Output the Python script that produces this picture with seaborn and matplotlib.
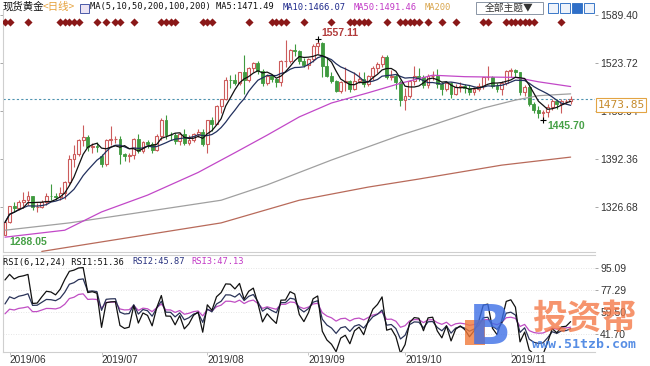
import numpy as np
import pandas as pd
import seaborn as sns
import matplotlib.pyplot as plt
import matplotlib.transforms as mtransforms
from matplotlib.patches import Rectangle

# daily candles, 2019-05-31 .. 2019-11-20 (124 sessions)
opens = [1288.3, 1305.6, 1327.9, 1325.3, 1333.3, 1336.5, 1341.4, 1326.9, 1327.3, 1334.2,
         1341.5, 1341.2, 1340.2, 1345.8, 1361.0, 1391.9, 1399.9, 1418.6, 1422.9, 1408.6,
         1410.2, 1397.0, 1385.4, 1418.0, 1419.6, 1420.0, 1399.5, 1396.4, 1397.4, 1419.3,
         1403.9, 1415.5, 1413.5, 1404.6, 1424.3, 1445.3, 1425.9, 1425.7, 1417.3, 1426.9,
         1414.1, 1418.7, 1426.8, 1430.0, 1413.5, 1445.5, 1440.5, 1464.3, 1474.0, 1500.4,
         1500.2, 1497.0, 1511.5, 1500.6, 1516.5, 1524.0, 1513.1, 1496.5, 1506.2, 1501.5,
         1497.7, 1526.7, 1527.0, 1542.0, 1540.5, 1526.4, 1520.6, 1529.2, 1547.1, 1551.6,
         1519.6, 1506.6, 1499.6, 1486.0, 1497.2, 1499.6, 1488.7, 1498.8, 1501.8, 1494.8,
         1505.6, 1516.8, 1522.1, 1531.7, 1504.6, 1505.9, 1497.8, 1472.5, 1478.9, 1499.7,
         1505.5, 1504.9, 1493.6, 1505.3, 1505.9, 1494.9, 1488.2, 1496.4, 1481.8, 1490.2,
         1492.6, 1489.9, 1484.5, 1487.5, 1492.4, 1504.1, 1504.9, 1492.3, 1487.8, 1495.7,
         1512.5, 1514.3, 1510.8, 1484.0, 1491.0, 1467.0, 1459.0, 1456.0, 1456.7, 1463.1,
         1471.2, 1468.1, 1471.4, 1471.7]
highs = [1306.0, 1328.6, 1333.5, 1336.5, 1347.0, 1348.5, 1342.0, 1332.0, 1337.0, 1346.0,
         1358.0, 1346.0, 1354.0, 1362.0, 1397.5, 1411.0, 1420.0, 1439.0, 1425.0, 1414.0,
         1416.0, 1399.0, 1420.0, 1437.0, 1424.0, 1424.0, 1401.0, 1401.0, 1421.0, 1426.0,
         1417.0, 1418.0, 1416.0, 1427.0, 1448.0, 1453.0, 1430.0, 1428.0, 1430.0, 1434.0,
         1425.0, 1428.0, 1433.0, 1433.0, 1446.0, 1450.0, 1466.0, 1475.0, 1505.0, 1507.0,
         1509.0, 1512.0, 1535.0, 1518.0, 1525.0, 1526.0, 1515.0, 1509.0, 1508.0, 1503.0,
         1528.0, 1555.0, 1543.0, 1550.0, 1542.0, 1531.0, 1530.0, 1550.0, 1557.11, 1552.0,
         1530.0, 1511.0, 1500.0, 1499.0, 1518.0, 1501.0, 1512.0, 1512.0, 1512.0, 1507.0,
         1519.0, 1525.0, 1535.0, 1534.0, 1514.0, 1508.0, 1500.0, 1489.0, 1500.0, 1519.0,
         1517.0, 1507.0, 1509.0, 1513.0, 1516.0, 1498.0, 1497.0, 1498.0, 1495.0, 1498.0,
         1495.0, 1493.0, 1491.0, 1496.0, 1505.0, 1519.0, 1506.0, 1496.0, 1499.0, 1514.0,
         1517.0, 1516.0, 1512.0, 1494.0, 1495.0, 1471.0, 1465.0, 1460.0, 1468.0, 1474.0,
         1474.0, 1475.0, 1474.0, 1478.0]
lows = [1288.05, 1304.5, 1320.0, 1322.0, 1326.0, 1330.0, 1323.0, 1320.0, 1325.0, 1330.0,
        1336.0, 1337.0, 1336.0, 1338.0, 1358.0, 1382.0, 1396.0, 1410.0, 1404.0, 1400.0,
        1402.0, 1381.0, 1383.0, 1411.0, 1414.0, 1386.0, 1390.0, 1388.0, 1393.0, 1400.0,
        1401.0, 1408.0, 1401.0, 1403.0, 1419.0, 1420.0, 1419.0, 1413.0, 1412.0, 1411.0,
        1412.0, 1416.0, 1422.0, 1410.0, 1400.0, 1431.0, 1440.0, 1456.0, 1473.0, 1490.0,
        1494.0, 1494.0, 1481.0, 1498.0, 1511.0, 1509.0, 1492.0, 1494.0, 1498.0, 1491.0,
        1492.0, 1518.0, 1524.0, 1533.0, 1522.0, 1518.0, 1516.0, 1525.0, 1536.0, 1504.0,
        1504.0, 1496.0, 1484.0, 1483.0, 1485.0, 1484.0, 1487.0, 1497.0, 1491.0, 1492.0,
        1500.0, 1510.0, 1518.0, 1502.0, 1500.0, 1488.0, 1465.0, 1459.0, 1476.0, 1493.0,
        1499.0, 1489.0, 1490.0, 1501.0, 1490.0, 1480.0, 1486.0, 1476.0, 1480.0, 1484.0,
        1483.0, 1480.0, 1480.0, 1485.0, 1488.0, 1500.0, 1489.0, 1484.0, 1480.0, 1494.0,
        1505.0, 1505.0, 1480.0, 1479.0, 1465.0, 1456.0, 1448.0, 1445.70, 1450.0, 1460.0,
        1461.0, 1456.0, 1467.0, 1468.0]
closes = [1305.6, 1327.9, 1325.3, 1333.3, 1336.5, 1341.4, 1326.9, 1327.3, 1334.2, 1341.5,
          1341.2, 1340.2, 1345.8, 1361.0, 1391.9, 1399.9, 1418.6, 1422.9, 1408.6, 1410.2,
          1409.4, 1385.4, 1418.0, 1419.6, 1420.0, 1399.5, 1396.4, 1397.4, 1419.3, 1403.9,
          1415.5, 1413.5, 1404.6, 1424.3, 1445.3, 1425.9, 1425.7, 1417.3, 1426.9, 1414.1,
          1418.7, 1426.8, 1430.0, 1413.5, 1445.5, 1440.5, 1464.3, 1474.0, 1500.4, 1500.2,
          1497.0, 1511.5, 1500.6, 1516.5, 1524.0, 1513.1, 1496.5, 1506.2, 1501.5, 1497.7,
          1526.7, 1527.0, 1542.0, 1540.5, 1526.4, 1520.6, 1529.2, 1547.1, 1551.6, 1519.6,
          1506.6, 1499.6, 1486.0, 1497.2, 1499.6, 1488.7, 1498.8, 1501.8, 1494.8, 1505.6,
          1516.8, 1522.1, 1531.7, 1504.6, 1505.9, 1497.8, 1472.5, 1478.9, 1499.7, 1505.5,
          1504.9, 1493.6, 1505.3, 1505.9, 1494.9, 1488.2, 1496.4, 1481.8, 1490.2, 1492.6,
          1489.9, 1484.5, 1487.5, 1492.4, 1504.1, 1504.9, 1492.3, 1487.8, 1495.7, 1512.5,
          1514.3, 1510.8, 1484.0, 1491.0, 1467.0, 1459.0, 1456.0, 1456.7, 1463.1, 1471.2,
          1468.1, 1471.4, 1471.7, 1473.85]

# long moving averages (session index, value)
ma50_idx = [0, 13, 21, 31, 42, 50, 57, 64, 71, 79, 86, 93, 100, 111, 116, 123]
ma50_val = [1285.5, 1295.0, 1320.0, 1343.0, 1374.0, 1401.0, 1425.0, 1450.0, 1469.0,
            1483.0, 1496.0, 1507.0, 1505.0, 1504.0, 1498.0, 1491.5]
ma100_idx = [0, 14, 28, 47, 57, 71, 86, 93, 104, 111, 116, 123]
ma100_val = [1295.0, 1305.0, 1318.0, 1336.0, 1357.0, 1391.0, 1425.0, 1439.0, 1462.0,
             1473.0, 1479.0, 1481.5]
ma200_idx = [8, 47, 64, 79, 90, 108, 123]
ma200_val = [1266.0, 1305.0, 1336.0, 1354.0, 1365.0, 1384.0, 1395.0]

# RSI(6,12,24) levels on the first session
rsi_periods = [6, 12, 24]
rsi_start = [85.4, 66.0, 58.0]

signal_idx = [0, 1, 5, 12, 13, 14, 15, 16, 20, 22, 24, 25, 28, 34, 35, 36, 37, 43, 44, 45,
              53, 58, 59, 60, 61, 65, 71, 75, 76, 77, 78, 79, 83, 86, 87, 88, 89, 90, 92,
              95, 98, 104, 105, 109, 110, 111, 112, 113, 114, 115, 121]

month_idx = [1, 21, 44, 66, 87, 110]
month_labels = ['2019/06', '2019/07', '2019/08', '2019/09', '2019/10', '2019/11']
price_ticks = [1326.68, 1392.36, 1458.04, 1523.72, 1589.40]
rsi_ticks = [41.70, 59.50, 77.29, 95.09]

UP = '#cc5c5c'
DN = '#3f9a3f'

sns.set_theme(style='white')
plt.rcParams['font.family'] = ['Liberation Sans', 'Noto Sans CJK SC']

W, H = 650, 366
fig = plt.figure(figsize=(6.5, 3.66), dpi=100)
fig.patch.set_facecolor('white')


def box(l, t, r, b):
    return [l / W, 1 - b / H, (r - l) / W, (b - t) / H]


def put(x, y, s, **kw):
    kw.setdefault('va', 'center')
    return fig.text(x / W, 1 - y / H, s, **kw)


ax1 = fig.add_axes(box(3, 10, 595, 252))
ax2 = fig.add_axes(box(3, 255, 595, 352))

df = pd.DataFrame({'o': opens, 'h': highs, 'l': lows, 'c': closes})
df['i'] = np.arange(len(df))

# candles
up = df[df.c >= df.o]
dn = df[df.c < df.o]
ax1.vlines(up.i, up.c, up.h, color=UP, lw=0.8, zorder=2)
ax1.vlines(up.i, up.l, up.o, color=UP, lw=0.8, zorder=2)
ax1.bar(up.i, (up.c - up.o).clip(lower=0.4), bottom=up.o, width=0.62, color='white',
        edgecolor=UP, linewidth=0.8, zorder=3)
ax1.vlines(dn.i, dn.l, dn.h, color=DN, lw=0.8, zorder=2)
ax1.bar(dn.i, dn.o - dn.c, bottom=dn.c, width=0.62, color=DN, edgecolor=DN,
        linewidth=0.6, zorder=3)

# moving averages
ma5 = df.c.rolling(5, min_periods=1).mean()
ma10 = df.c.rolling(10, min_periods=1).mean()
sns.lineplot(x=ma200_idx, y=ma200_val, ax=ax1, color='#b86a5a', linewidth=0.9, zorder=4)
sns.lineplot(x=ma100_idx, y=ma100_val, ax=ax1, color='#a0a0a0', linewidth=0.9, zorder=4)
sns.lineplot(x=ma50_idx, y=ma50_val, ax=ax1, color='#c248c8', linewidth=0.9, zorder=4)
sns.lineplot(x=df.i, y=ma10, ax=ax1, color='#22305e', linewidth=0.9, zorder=5)
sns.lineplot(x=df.i, y=ma5, ax=ax1, color='#111111', linewidth=0.9, zorder=5)

# last price line
ax1.axhline(closes[-1], color='#4f93b0', lw=0.8, ls=(0, (2, 2)), zorder=1)

# signal diamonds along the top
trans = mtransforms.blended_transform_factory(ax1.transData, ax1.transAxes)
ax1.scatter(signal_idx, [0.95] * len(signal_idx), transform=trans, marker='D', s=17,
            color='#8a1818', linewidths=0, zorder=6)

# extreme labels
hi = int(np.argmax(highs))
lo = int(np.argmin(lows))
lo2 = 100 + int(np.argmin(lows[100:]))
ax1.plot(hi, highs[hi], marker='+', color='black', ms=4, mew=0.8, zorder=6)
ax1.annotate(f'{highs[hi]:.2f}', (hi, highs[hi]), xytext=(3, 4), textcoords='offset points',
             color='#b23b3b', fontsize=7.5, fontweight='bold', va='center')
ax1.plot(lo2, lows[lo2], marker='+', color='black', ms=4, mew=0.8, zorder=6)
ax1.annotate(f'{lows[lo2]:.2f}', (lo2, lows[lo2]), xytext=(3, -4), textcoords='offset points',
             color='#46a046', fontsize=7.5, fontweight='bold', va='center')
ax1.annotate(f'{lows[lo]:.2f}', (lo, lows[lo]), xytext=(3, -5), textcoords='offset points',
             color='#46a046', fontsize=7.5, fontweight='bold', va='center')

ax1.set_xlim(-0.43, 128.3)
ax1.set_ylim(1265.2, 1596.2)
ax1.set_yticks(price_ticks)
ax1.set_yticklabels([f'{t:.2f}' for t in price_ticks])
ax1.yaxis.tick_right()
ax1.tick_params(axis='y', which='both', left=True, right=True, labelleft=False, labelright=True,
                length=2.2, width=0.6, color='#999999', pad=1.5, labelsize=7.5,
                labelcolor='#333333')
ax1.set_xticks([])
ax1.set_xlabel('')
ax1.set_ylabel('')
for side in ['top', 'right']:
    ax1.spines[side].set_visible(False)
for side in ['left', 'bottom']:
    ax1.spines[side].set_color('#cfcfcf')
    ax1.spines[side].set_linewidth(0.8)

# RSI panel: SMA(gain,N,1)/SMA(|move|,N,1), started from the level seen on the first session
diff = df.c.diff()
move0 = diff.abs().mean()


def rsi(p, start):
    gain = diff.clip(lower=0).copy()
    move = diff.abs().copy()
    gain.iloc[0] = move0 * start / 100
    move.iloc[0] = move0
    return gain.ewm(alpha=1 / p, adjust=False).mean() / move.ewm(alpha=1 / p, adjust=False).mean() * 100


rsi_lines = [rsi(p, s) for p, s in zip(rsi_periods, rsi_start)]

for r in rsi_ticks:
    ax2.axhline(r, color='#dddddd', lw=0.6, ls=(0, (1, 2)), zorder=0)
sns.lineplot(x=df.i, y=rsi_lines[2], ax=ax2, color='#c04ec4', linewidth=0.9)
sns.lineplot(x=df.i, y=rsi_lines[1], ax=ax2, color='#2a3358', linewidth=0.9)
sns.lineplot(x=df.i, y=rsi_lines[0], ax=ax2, color='#111111', linewidth=0.9)
ax2.set_xlim(-0.43, 128.3)
ax2.set_ylim(27.1, 105.6)
ax2.set_yticks(rsi_ticks)
ax2.set_yticklabels([f'{t:.2f}' for t in rsi_ticks])
ax2.yaxis.tick_right()
ax2.tick_params(axis='y', right=True, left=False, length=2.2, width=0.6, color='#999999',
                pad=1.5, labelsize=7.5, labelcolor='#333333')
ax2.set_xticks(month_idx)
ax2.set_xticklabels(month_labels)
for lbl in ax2.get_xticklabels():
    lbl.set_ha('left')
ax2.tick_params(axis='x', bottom=True, length=2, width=0.6, color='#bbbbbb', pad=0.5,
                labelsize=7.3, labelcolor='#333333')
ax2.set_xlabel('')
ax2.set_ylabel('')
ax2.spines['right'].set_visible(False)
for side in ['left', 'top', 'bottom']:
    ax2.spines[side].set_color('#cfcfcf')
    ax2.spines[side].set_linewidth(0.8)

# header texts
mono = ['DejaVu Sans Mono', 'Noto Sans CJK SC']
cjk = ['Noto Sans CJK SC', 'DejaVu Sans']
put(3, 7, '现货黄金', color='#111111', fontsize=7.5, family=cjk)
put(43, 7, '<日线>', color='#e6a23c', fontsize=7.5, family=cjk)
fig.patches.append(Rectangle((80 / W, 1 - 13 / H), 9 / W, 9 / H, transform=fig.transFigure,
                             facecolor='#ece4f4', edgecolor='#4a5aa8', lw=0.7))
put(90, 7, 'MA(5,10,50,200,100,200) MA5:1471.49', color='#111111', fontsize=6.3, family=mono)
put(283, 7, 'MA10:1466.07', color='#1f2a8c', fontsize=6.3, family=mono)
put(354, 7, 'MA50:1491.46', color='#c23ac6', fontsize=6.3, family=mono)
put(425, 7, 'MA200', color='#d9a54c', fontsize=6.3, family=mono)

fig.patches.append(Rectangle((476 / W, 1 - 14 / H), 67 / W, 12 / H, transform=fig.transFigure,
                             facecolor='white', edgecolor='#8a95a5', lw=0.7))
put(509, 8, '全部主题▼', color='#333333', fontsize=7, family=cjk, ha='center')
for k, x0 in enumerate([548, 560, 572, 584]):
    fc = '#2f6fc8' if k == 2 else '#eef3fb'
    fig.patches.append(Rectangle((x0 / W, 1 - 13 / H), 10 / W, 10 / H, transform=fig.transFigure,
                                 facecolor=fc, edgecolor='#3a78c8', lw=0.7))

put(3, 262, 'RSI(6,12,24) RSI1:51.36', color='#111111', fontsize=6.3, family=mono)
put(132, 262, 'RSI2:45.87', color='#2a3380', fontsize=6.3, family=mono)
put(191, 262, 'RSI3:47.13', color='#c23ac6', fontsize=6.3, family=mono)

# last price box
put(621, 105, f'{closes[-1]:.2f}', color='#c68b2c', fontsize=8, family=mono, ha='center',
    bbox=dict(boxstyle='square,pad=0.15', facecolor='white', edgecolor='#e3a443', lw=0.8))

# watermark
fig.patches.append(Rectangle((465 / W, 1 - 345 / H), 20 / W, 25 / H, transform=fig.transFigure,
                             facecolor='#f07a3a', edgecolor='none', alpha=0.8))
put(490, 329, 'B', color='#3d6fe6', fontsize=40, fontweight='bold', ha='center',
    family=['DejaVu Sans'], alpha=0.8)
put(584, 318, '投资帮', color='#f47a48', fontsize=25, fontweight='bold', ha='center',
    family=cjk, alpha=0.8)
put(584, 344, 'www.51tzb.com', color='#3a7ae0', fontsize=9.5, fontweight='bold', ha='center',
    family=['DejaVu Sans Mono'], alpha=0.85)

fig.savefig('out.png', dpi=100, facecolor='white')
